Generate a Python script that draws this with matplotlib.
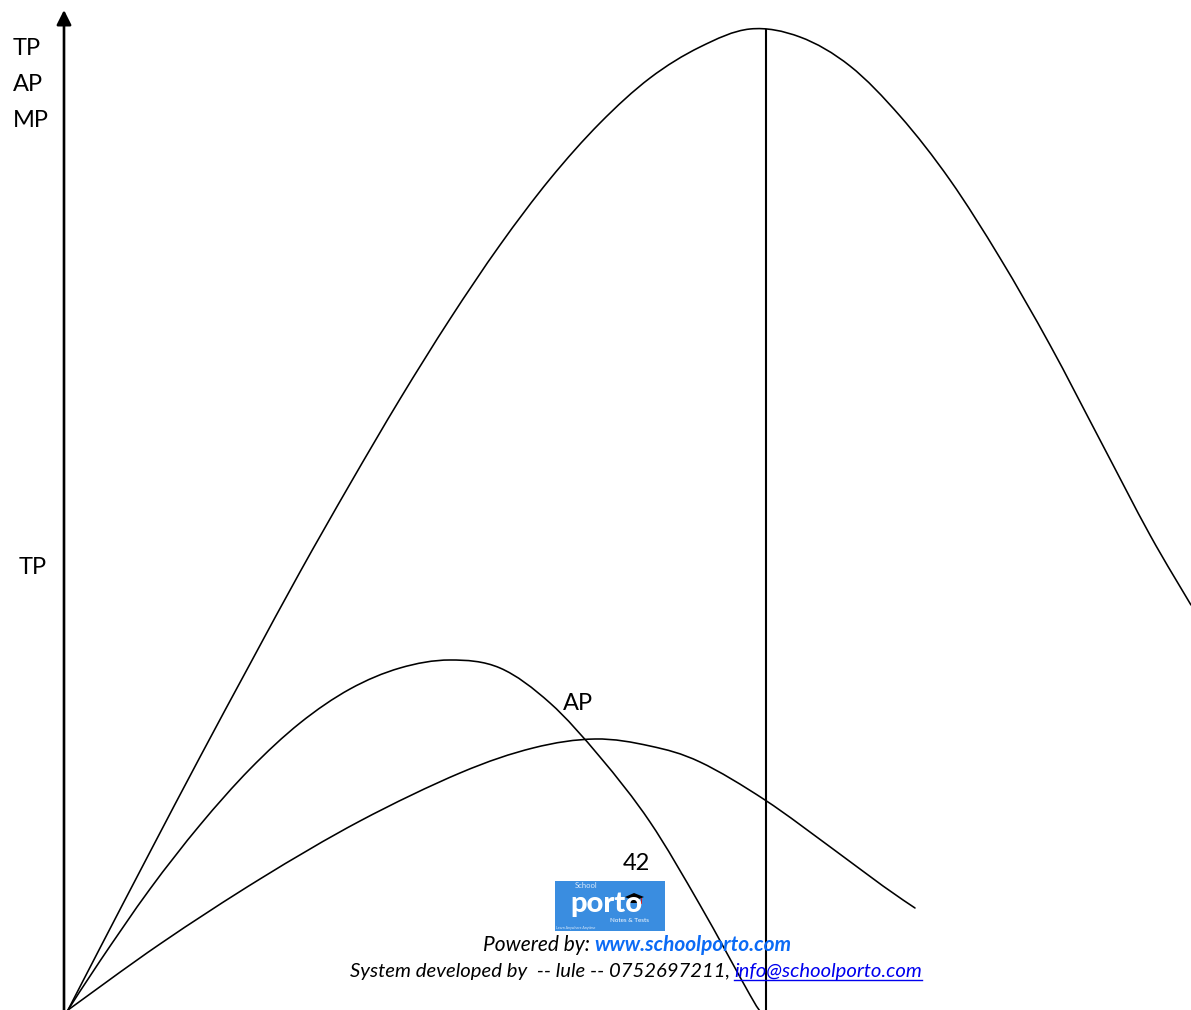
import matplotlib
matplotlib.use("Agg")
import matplotlib.pyplot as plt
from matplotlib.patches import Rectangle, Polygon, PathPatch
from matplotlib.path import Path

# ---------------- data (diagram units: x to the right, y downward) ----------------
tp_x = [68, 100, 150, 200, 250, 300, 350, 400, 450, 500, 550, 600, 650, 700, 750,
        800, 850, 900, 950, 1000, 1050, 1100, 1150, 1191]
tp_y = [1010, 948, 852, 757, 664, 572, 484, 399, 319, 245, 179, 123, 78, 47, 29,
        37, 66, 116, 180, 258, 345, 440, 535, 605]

mp_x = [68, 100, 150, 200, 250, 300, 350, 400, 450, 500, 550, 600, 650, 700, 750, 762]
mp_y = [1010, 961, 889, 825, 769, 723, 689, 668, 660, 668, 703, 757, 822, 905, 995, 1014]

ap_x = [68, 160, 260, 360, 460, 533, 595, 650, 700, 765, 833, 883, 915]
ap_y = [1010, 944, 879, 821, 773, 748, 739, 746, 762, 800, 849, 886, 908]

vline_x = 766
vline_top = 30

axis_labels = ["TP", "AP", "MP"]
curve_labels = {"TP": (19, 574), "AP": (563, 710)}
page_number = "42"

powered_prefix = "Powered by: "
powered_link = "www.schoolporto.com"
dev_prefix = "System developed by  -- lule -- 0752697211, "
dev_link = "info@schoolporto.com"

# ---------------- figure ----------------
W, H = 1191, 1010
fig = plt.figure(figsize=(W / 100, H / 100), dpi=100)
ax = fig.add_axes([0, 0, 1, 1])
ax.set_xlim(0, W)
ax.set_ylim(H, 0)
ax.axis("off")

FONT = "Lato"


def smooth_curve(xs, ys, lw):
    """Draw a smooth curve through the read points (Catmull-Rom as cubic Beziers)."""
    pts = list(zip(xs, ys))
    n = len(pts)
    verts = [pts[0]]
    codes = [Path.MOVETO]
    for i in range(n - 1):
        p0 = pts[i - 1] if i > 0 else pts[i]
        p1 = pts[i]
        p2 = pts[i + 1]
        p3 = pts[i + 2] if i + 2 < n else pts[i + 1]
        c1 = (p1[0] + (p2[0] - p0[0]) / 6, p1[1] + (p2[1] - p0[1]) / 6)
        c2 = (p2[0] - (p3[0] - p1[0]) / 6, p2[1] - (p3[1] - p1[1]) / 6)
        verts += [c1, c2, p2]
        codes += [Path.CURVE4] * 3
    ax.add_patch(PathPatch(Path(verts, codes), facecolor="none", edgecolor="black",
                           lw=lw, capstyle="round", joinstyle="round"))


# vertical axis with arrow
ax.annotate("", xy=(64, 10), xytext=(64, 1012),
            arrowprops=dict(arrowstyle="-|>", lw=1.9, color="black",
                            mutation_scale=22, shrinkA=0, shrinkB=0))

lw_curve = 1.15
smooth_curve(tp_x, tp_y, lw_curve)
smooth_curve(mp_x, mp_y, lw_curve)
smooth_curve(ap_x, ap_y, lw_curve)
ax.plot([vline_x, vline_x], [vline_top, 1012], color="black", lw=1.5)

# labels
for i, lab in enumerate(axis_labels):
    ax.text(13, 55 + 36 * i, lab, fontsize=17, family=FONT, ha="left", va="baseline")
for lab, (x, y) in curve_labels.items():
    ax.text(x, y, lab, fontsize=17, family=FONT, ha="left", va="baseline")
ax.text(636, 870, page_number, fontsize=17, family=FONT, ha="center", va="baseline")

# logo
ax.add_patch(Rectangle((555, 881), 110, 50, facecolor="#3A8DE0", edgecolor="none"))
ax.text(586, 886, "School", fontsize=5.5, color="#d8e8fa", family=FONT, ha="center", va="center")
ax.text(606, 912, "porto", fontsize=21, color="white", family=FONT, weight="black",
        ha="center", va="baseline")
ax.add_patch(Polygon([[625, 897], [634, 893], [644, 897], [634, 901]], closed=True,
                     facecolor="black", edgecolor="none"))
ax.add_patch(Rectangle((629, 898), 9, 5, facecolor="black", edgecolor="none"))
ax.add_patch(Rectangle((641, 898), 1.2, 6, facecolor="#d02020", edgecolor="none"))
ax.text(630, 921, "Notes & Tests", fontsize=4.5, color="white", family=FONT,
        ha="center", va="center")
ax.text(576, 928.5, "Learn Anywhere Anytime", fontsize=2.5, color="#e0ecfa", family=FONT,
        ha="center", va="center")

# footer (two-colour lines, centred)
fig.canvas.draw()
renderer = fig.canvas.get_renderer()


def two_part_line(y, left, right, right_color, right_weight, center, size, underline=False):
    t1 = ax.text(0, y, left, fontsize=size, family=FONT, style="italic", color="black",
                 ha="left", va="baseline")
    t2 = ax.text(0, y, right, fontsize=size, family=FONT, style="italic", color=right_color,
                 weight=right_weight, ha="left", va="baseline")
    w1 = t1.get_window_extent(renderer).width
    w2 = t2.get_window_extent(renderer).width
    x0 = center - (w1 + w2) / 2
    t1.set_x(x0)
    t2.set_x(x0 + w1)
    if underline:
        ax.plot([x0 + w1, x0 + w1 + w2], [y + 3, y + 3], color=right_color, lw=1.0)


two_part_line(951, powered_prefix, powered_link, "#0B6BF5", "bold", 637, 15.0)
two_part_line(977, dev_prefix, dev_link, "#0000EE", "normal", 636, 14.6, underline=True)

fig.savefig("out.png", dpi=100)
